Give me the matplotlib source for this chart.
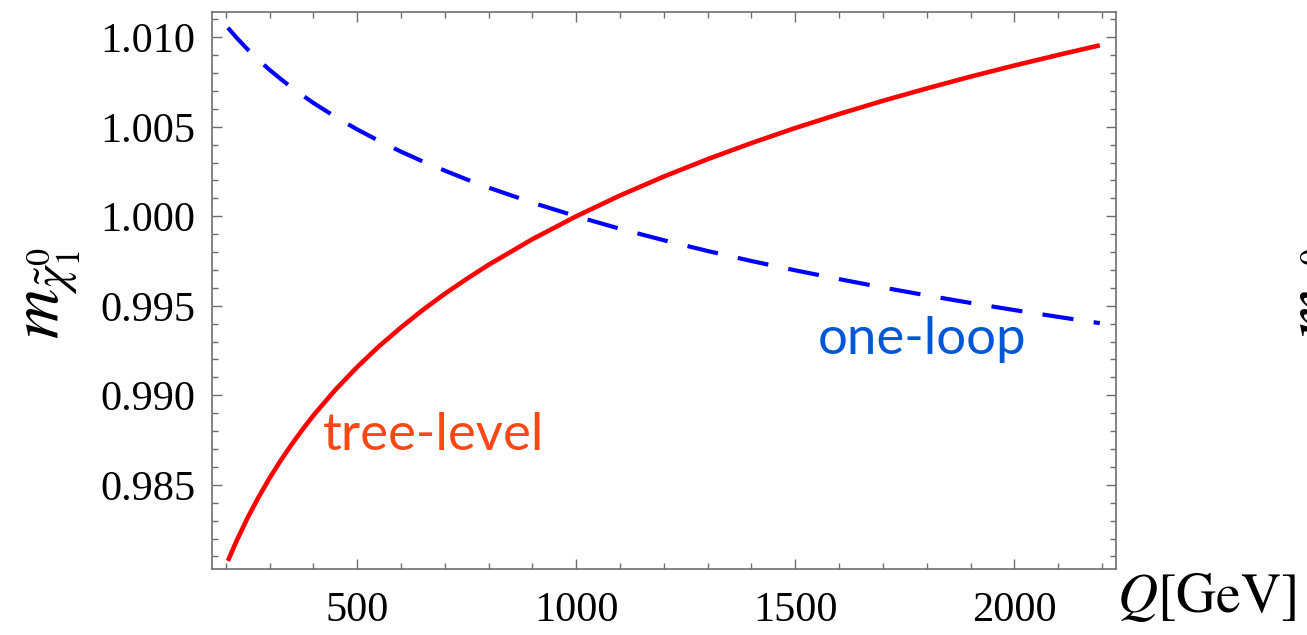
import matplotlib
matplotlib.use("Agg")
import matplotlib.pyplot as plt
from matplotlib.ticker import MultipleLocator

plt.rcParams['mathtext.fontset'] = 'stix'

# ---- data ----
q_tree = [205, 225, 250, 275, 300, 325, 350, 375, 400, 450, 500, 550, 600, 650,
          700, 750, 800, 900, 1000, 1100, 1200, 1300, 1400, 1500, 1600, 1700,
          1800, 1900, 2000, 2100, 2195]
m_tree = [0.98075, 0.98188, 0.98316, 0.98431, 0.98537, 0.98634, 0.98724, 0.98808,
          0.98887, 0.99030, 0.99158, 0.99274, 0.99379, 0.99477, 0.99567, 0.99650,
          0.99729, 0.99872, 1.00000, 1.00116, 1.00222, 1.00319, 1.00409, 1.00493,
          1.00571, 1.00645, 1.00714, 1.00780, 1.00842, 1.00901, 1.00955]

q_loop = [205, 225, 250, 275, 300, 325, 350, 375, 400, 450, 500, 550, 600, 650,
          700, 750, 800, 900, 1000, 1100, 1200, 1300, 1400, 1500, 1600, 1700,
          1800, 1900, 2000, 2100, 2195]
m_loop = [1.01053, 1.00997, 1.00932, 1.00873, 1.00818, 1.00768, 1.00720, 1.00676,
          1.00633, 1.00556, 1.00485, 1.00421, 1.00361, 1.00306, 1.00255, 1.00206,
          1.00160, 1.00076, 1.00000, 0.99930, 0.99866, 0.99806, 0.99750, 0.99698,
          0.99649, 0.99602, 0.99558, 0.99516, 0.99476, 0.99438, 0.99403]

x_major = [500, 1000, 1500, 2000]
y_major = [0.985, 0.990, 0.995, 1.000, 1.005, 1.010]
y_ticklabels = ["0.985", "0.990", "0.995", "1.000", "1.005", "1.010"]

label_tree = "tree-level"
label_loop = "one-loop"
ylabel = r"$m_{\tilde{\chi}_1^0}$"
xlabel = r"$Q[\mathrm{GeV}]$"

W, H = 1307, 635
fig = plt.figure(figsize=(W / 100, H / 100), dpi=100)
L, R, T, B = 212, 1116, 12, 569.3
ax = fig.add_axes([L / W, (H - B) / H, (R - L) / W, (B - T) / H])

ax.plot(q_tree, m_tree, color="#ff0000", lw=3.3, solid_capstyle="butt")
ax.plot(q_loop, m_loop, color="#0000ff", lw=3.0, linestyle=(0, (7.5, 4.9)),
        dash_capstyle="butt")

ax.set_xlim(168.7, 2232)
ax.set_ylim(0.98028, 1.01141)

ax.set_xticks(x_major)
ax.xaxis.set_minor_locator(MultipleLocator(100))
ax.set_yticks(y_major)
ax.set_yticklabels(y_ticklabels)
ax.yaxis.set_minor_locator(MultipleLocator(0.001))

frame_col = "#6e6e6e"
for s in ax.spines.values():
    s.set_color(frame_col)
    s.set_linewidth(1.2)
ax.tick_params(which="both", direction="in", top=True, right=True,
               color=frame_col, width=1.0, labelcolor="black")
ax.tick_params(which="major", length=7.5)
ax.tick_params(which="minor", length=4.5)
ax.tick_params(axis="y", which="major", pad=12)
ax.tick_params(axis="x", which="major", pad=16)
for lab in ax.get_xticklabels() + ax.get_yticklabels():
    lab.set_fontfamily("Liberation Serif")
    lab.set_fontsize(30.5)

# curve labels
ax.text(323 / W, 1 - 450 / H, label_tree, transform=fig.transFigure,
        fontfamily="Lato", fontsize=38, color="#ff4716", ha="left", va="baseline")
ax.text(818 / W, 1 - 354 / H, label_loop, transform=fig.transFigure,
        fontfamily="Lato", fontsize=38, color="#0057d6", ha="left", va="baseline")

# axis labels
fig.text(16 / W, 1 - 293 / H, ylabel, rotation=90, fontsize=50,
         ha="left", va="center")
fig.text(1117 / W, 1 - 612 / H, xlabel, fontsize=40, ha="left", va="baseline")
# cropped label of neighbouring panel at right edge
fig.text(1290 / W, 1 - 293 / H, ylabel, rotation=90, fontsize=50,
         ha="left", va="center")

fig.savefig("out.png", dpi=100)
